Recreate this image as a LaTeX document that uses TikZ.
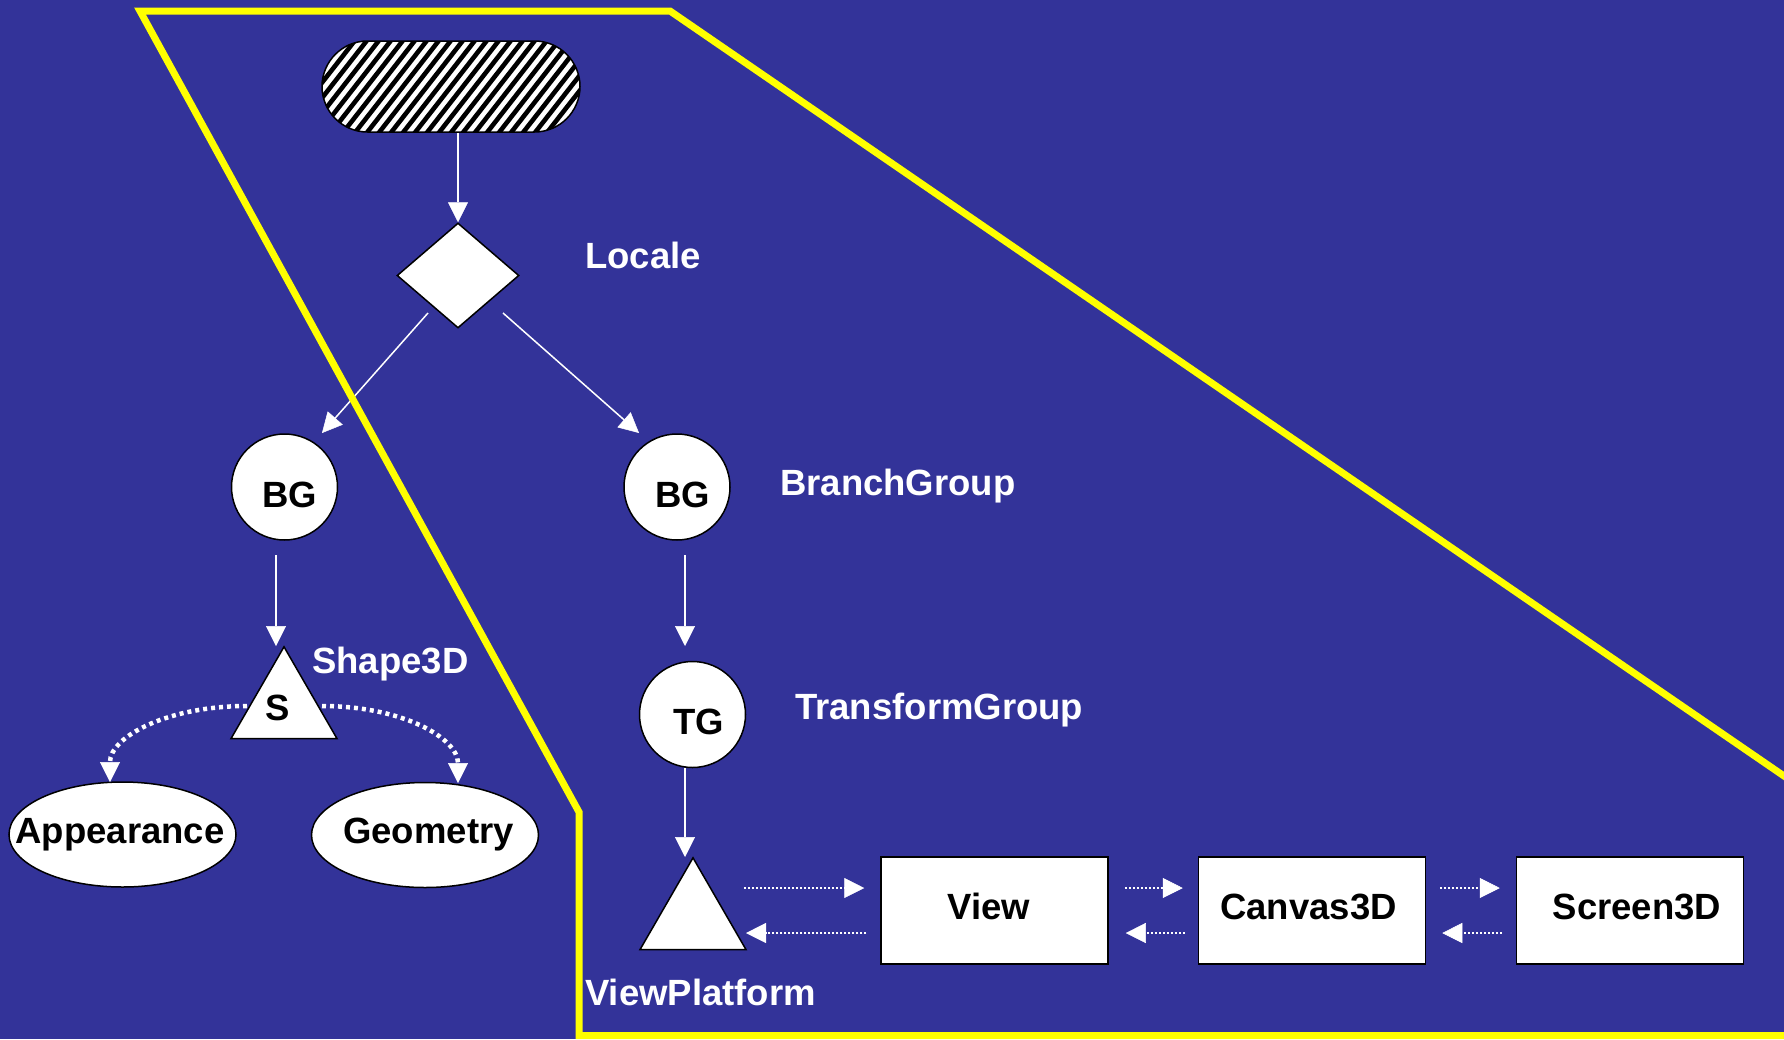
\documentclass[tikz,border=0pt]{standalone}
\usepackage{fontspec}
\setmainfont{Liberation Sans}
\usetikzlibrary{arrows.meta,shapes.geometric,calc}
\definecolor{bgblue}{RGB}{51,51,153}
\definecolor{yel}{RGB}{255,255,0}
\begin{document}
\begin{tikzpicture}[x=1pt,y=-1pt,
  every node/.style={font=\fontsize{36.5}{40}\selectfont\bfseries, inner sep=0pt},
  whiteshape/.style={draw=black,fill=white,line width=1.5pt},
  circ/.style={whiteshape,circle,minimum size=106pt,text height=40pt,text depth=0pt},
  tri/.style={whiteshape,regular polygon,regular polygon sides=3,minimum size=122.4pt},
  ell/.style={whiteshape,ellipse,minimum width=227pt,minimum height=105pt},
  rbox/.style={whiteshape,rectangle,minimum width=227pt,minimum height=107pt,text depth=9pt,text height=26pt},
  lbl/.style={text=white,anchor=base west},
  arr/.style={white,line width=1.5pt,-{Triangle[length=20pt,width=20pt,line width=0.5pt]}},
  dotarr/.style={arr,dash pattern=on 2pt off 2pt},
  dotcurve/.style={arr,line width=4.5pt,dash pattern=on 4pt off 4pt}
]
\useasboundingbox (0,0) rectangle (1784,1039);
\fill[bgblue] (0,0) rectangle (1784,1039);

% nodes
\node[whiteshape,rectangle,rounded corners=45.5pt,minimum width=258pt,minimum height=91pt,
  path picture={
    \foreach \k in {-20,...,20}
      \draw[black,line width=4.6pt] ([xshift=\k*12pt]path picture bounding box.center) ++(-50pt,-64pt) -- ++(100pt,128pt);
  }] (pill) at (451,86.5) {};
\node[whiteshape,diamond,minimum width=122pt,minimum height=105pt] (dia) at (458,275.5) {};
\node[circ] (bgl) at (284.5,487) {\hspace*{11pt}BG};
\node[circ] (bgr) at (677,487) {\hspace*{11pt}BG};
\node[circ] (tg) at (692.5,714.5) {\hspace*{13pt}TG};
\node[tri] (s) at (284,708) {S\hspace*{12pt}};
\node[tri] (vp) at (693,919) {};
\node[ell] (app) at (122.5,834.5) {\makebox[0pt]{Appearance\hspace*{5pt}}};
\node[ell] (geo) at (425,835) {\makebox[0pt]{\hspace*{7pt}Geometry}};
\node[rbox] (view) at (994.5,910.5) {View\hspace*{11pt}};
\node[rbox] (canvas) at (1312,910.5) {Canvas3D\hspace*{7pt}};
\node[rbox] (screen) at (1630,910.5) {\hspace*{14pt}Screen3D};

% labels
\node[lbl] (locale) at (585,268) {Locale};
\node[lbl] (branch) at (780,495) {BranchGroup};
\node[lbl] (transform) at (795,719.5) {TransformGroup};
\node[lbl] (shape) at (312,673) {Shape3D};
\node[lbl] (vplabel) at (585,1005) {ViewPlatform};

% connectors
\draw[arr] (pill.south -| dia.north) -- (dia.north);
\draw[arr] ($(dia.center)+(-30,37.5)$) -- ($(bgl.center)+(37.5,-54)$);
\draw[arr] ($(dia.center)+(45,37.5)$) -- ($(bgr.center)+(-38,-54)$);
\draw[arr] ($(bgl.center)+(-8.5,68)$) -- ($(s.center)+(-8,-62)$);
\draw[arr] ($(bgr.center)+(8,68)$) -- ($(tg.center)+(-7.5,-68.5)$);
\draw[arr] ($(tg.center)+(-7.5,53.5)$) -- ($(vp.center)+(-8,-62)$);

\draw[dotcurve] ($(s.center)+(38,-2)$) .. controls +(80,0) and +(0,-45) .. ($(geo.center)+(33,-52)$);
\draw[dotcurve] ($(s.center)+(-37,-2)$) .. controls +(-80,0) and +(0,-45) .. ($(app.center)+(-12.5,-52.5)$);

\draw[dotarr] ($(vp.center)+(51,-31)$) -- ($(view.west)+(-16,-22.5)$);
\draw[dotarr] ($(view.west)+(-14,22.5)$) -- ($(vp.center)+(53,14)$);
\draw[dotarr] ($(view.east)+(16,-22.5)$) -- ($(canvas.west)+(-15,-22.5)$);
\draw[dotarr] ($(canvas.west)+(-13,22.5)$) -- ($(view.east)+(17,22.5)$);
\draw[dotarr] ($(canvas.east)+(14,-22.5)$) -- ($(screen.west)+(-16,-22.5)$);
\draw[dotarr] ($(screen.west)+(-14,22.5)$) -- ($(canvas.east)+(16,22.5)$);

% yellow frame
\draw[yel,line width=7pt] (140,11) -- (670,11) -- (1800,787) -- (1800,1035.5) -- (579,1035.5) -- (579,812) -- cycle;
\end{tikzpicture}
\end{document}
